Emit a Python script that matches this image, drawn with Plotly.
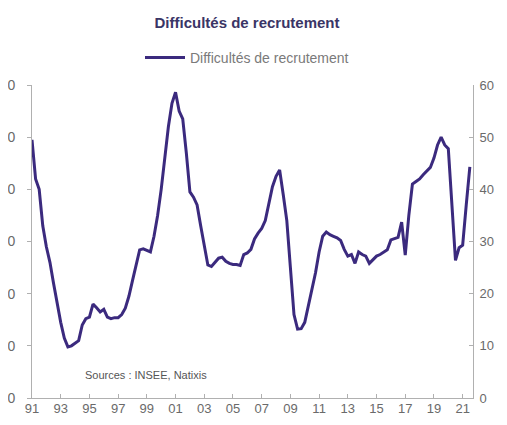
import plotly.graph_objects as go

years = [
    1991.00, 1991.25, 1991.50, 1991.75, 1992.00, 1992.25, 1992.50, 1992.75,
    1993.00, 1993.25, 1993.50, 1993.75, 1994.00, 1994.25, 1994.50, 1994.75,
    1995.00, 1995.25, 1995.50, 1995.75, 1996.00, 1996.25, 1996.50, 1996.75,
    1997.00, 1997.25, 1997.50, 1997.75, 1998.00, 1998.25, 1998.50, 1998.75,
    1999.00, 1999.25, 1999.50, 1999.75, 2000.00, 2000.25, 2000.50, 2000.75,
    2001.00, 2001.25, 2001.50, 2001.75, 2002.00, 2002.25, 2002.50, 2002.75,
    2003.00, 2003.25, 2003.50, 2003.75, 2004.00, 2004.25, 2004.50, 2004.75,
    2005.00, 2005.25, 2005.50, 2005.75, 2006.00, 2006.25, 2006.50, 2006.75,
    2007.00, 2007.25, 2007.50, 2007.75, 2008.00, 2008.25, 2008.50, 2008.75,
    2009.00, 2009.25, 2009.50, 2009.75, 2010.00, 2010.25, 2010.50, 2010.75,
    2011.00, 2011.25, 2011.50, 2011.75, 2012.00, 2012.25, 2012.50, 2012.75,
    2013.00, 2013.25, 2013.50, 2013.75, 2014.00, 2014.25, 2014.50, 2014.75,
    2015.00, 2015.25, 2015.50, 2015.75, 2016.00, 2016.25, 2016.50, 2016.75,
    2016.90, 2017.00, 2017.25, 2017.50, 2017.75, 2018.00, 2018.25, 2018.50,
    2018.75, 2019.00, 2019.25, 2019.50, 2019.75, 2020.00, 2020.25, 2020.50,
    2020.75, 2021.00, 2021.25, 2021.50,
]

difficultes = [
    49.5, 42.0, 40.0, 33.0, 29.0, 26.0, 22.0, 18.0,
    14.5, 11.5, 9.8, 10.0, 10.5, 11.0, 14.0, 15.2,
    15.5, 18.0, 17.3, 16.5, 17.0, 15.5, 15.2, 15.4,
    15.4, 16.0, 17.2, 19.5, 22.5, 25.5, 28.4, 28.6,
    28.3, 28.0, 31.0, 35.0, 40.0, 46.0, 52.0, 56.5,
    58.6, 55.0, 53.5, 47.0, 39.5, 38.5, 37.0, 33.0,
    29.0, 25.5, 25.2, 26.0, 26.8, 27.0, 26.2, 25.8,
    25.6, 25.6, 25.4, 27.5, 27.8, 28.5, 30.5, 31.6,
    32.5, 34.0, 37.5, 40.5, 42.5, 43.7, 39.0, 34.0,
    25.0, 16.0, 13.2, 13.3, 14.5, 17.5, 20.5, 24.0,
    28.0, 31.0, 31.8, 31.3, 31.0, 30.7, 30.2, 28.5,
    27.2, 27.5, 25.8, 28.0, 27.5, 27.2, 25.8, 26.5,
    27.2, 27.5, 28.0, 28.4, 30.3, 30.5, 30.8, 33.7,
    29.7, 27.4, 35.0, 41.0, 41.5, 42.0, 42.8, 43.5,
    44.2, 46.0, 48.5, 50.0, 48.5, 47.8, 38.0, 26.4,
    28.8, 29.3, 37.0, 44.3,
]

tick_years = [1991, 1993, 1995, 1997, 1999, 2001, 2003, 2005, 2007, 2009,
              2011, 2013, 2015, 2017, 2019, 2021]
tick_labels = ["91", "93", "95", "97", "99", "01", "03", "05", "07", "09",
               "11", "13", "15", "17", "19", "21"]
y_ticks = [0, 10, 20, 30, 40, 50, 60]

series_name = "Difficultés de recrutement"
line_color = "#3b2a7e"
axis_color = "#b0b0b0"
label_color = "#6a6a6a"
font_family = "Liberation Sans, Arial, sans-serif"

# the page body adds an 8px margin all round, so the figure fits inside it
W, H = 491, 409
ML, MR, MT, MB = 24, 26, 77, 19
plot_w = W - ML - MR
plot_h = H - MT - MB

fig = go.Figure()
# invisible copy on the left axis so that axis is drawn
fig.add_trace(go.Scatter(x=years, y=difficultes, mode="lines",
                         line=dict(color="rgba(0,0,0,0)", width=0),
                         showlegend=False, hoverinfo="skip", yaxis="y"))
fig.add_trace(go.Scatter(x=years, y=difficultes, mode="lines", name=series_name,
                         line=dict(color=line_color, width=3), yaxis="y2"))

fig.update_layout(
    width=W, height=H,
    margin=dict(l=ML, r=MR, t=MT, b=MB, autoexpand=False),
    paper_bgcolor="white", plot_bgcolor="white",
    font=dict(family=font_family, color=label_color),
    title=dict(text="<b>Difficultés de recrutement</b>", x=239 / W, xanchor="center",
               xref="container", yref="container",
               y=1 - 15 / H, yanchor="middle",
               font=dict(size=15, color="#3a3566", family=font_family)),
    legend=dict(orientation="h", x=239 / W, xanchor="center", xref="container",
                y=1 - 50 / H, yref="container", yanchor="middle",
                font=dict(size=14, color="#7a7a7a"), itemwidth=40,
                bgcolor="rgba(0,0,0,0)"),
    xaxis=dict(range=[1991, 2021.72], tickmode="array", tickvals=tick_years,
               ticktext=tick_labels, showgrid=False, zeroline=False,
               showline=True, linecolor=axis_color, linewidth=1,
               ticks="inside", ticklen=4, tickcolor=axis_color, automargin=False,
               ticklabelstandoff=-2,
               tickfont=dict(size=13, color=label_color)),
    yaxis=dict(range=[0, 60], tickvals=y_ticks, showgrid=False, zeroline=False,
               showline=True, linecolor=axis_color, linewidth=1,
               ticks="outside", ticklen=4, tickcolor=axis_color, automargin=False,
               ticklabelstandoff=9, tickfont=dict(size=14, color=label_color)),
    yaxis2=dict(range=[0, 60], tickvals=y_ticks, overlaying="y", side="right",
                showgrid=False, zeroline=False, showline=True,
                linecolor=axis_color, linewidth=1, ticks="inside", ticklen=4,
                tickcolor=axis_color, ticklabelstandoff=3, automargin=False,
                tickfont=dict(size=13, color=label_color)),
)

fig.add_annotation(text="Sources : INSEE, Natixis", xref="paper", yref="paper",
                   x=(75 - ML) / plot_w, y=(H - MB - 367) / plot_h,
                   xanchor="left", yanchor="middle", showarrow=False,
                   font=dict(size=11, color="#555555", family=font_family))

fig.write_html("out.html")
